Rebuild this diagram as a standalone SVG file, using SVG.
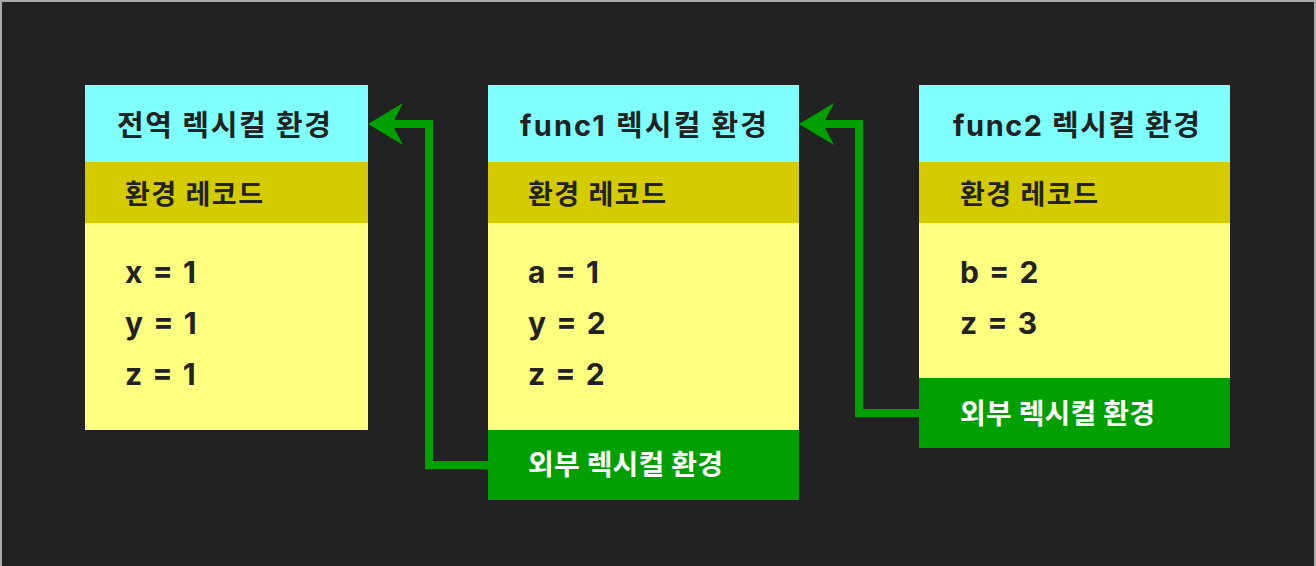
<svg xmlns="http://www.w3.org/2000/svg" width="1316" height="566" viewBox="0 0 1316 566">
<style>
.title{font-family:Inter,"Noto Sans CJK KR",sans-serif;font-weight:700;font-size:29px;fill:#222;text-anchor:middle}
.rec{font-family:Inter,"Noto Sans CJK KR",sans-serif;font-weight:700;font-size:27px;fill:#222}
.var{font-family:Inter,"Noto Sans CJK KR",sans-serif;font-weight:700;font-size:30px;fill:#222;word-spacing:3px}
.outer{font-family:Inter,"Noto Sans CJK KR",sans-serif;font-weight:700;font-size:28px;fill:#fff}
.hd{fill:#80FFFF}
.rc{fill:#D4CC00}
.bd{fill:#FFFF80}
.gr{fill:#00A000}
.conn{fill:none;stroke:#00A000;stroke-width:8;stroke-linejoin:miter}
.head{fill:#00A000}
</style>
<rect x="0" y="0" width="1316" height="566" fill="#222"/>
<path d="M1,566 V1 H1315 V566" fill="none" stroke="#aaa" stroke-width="2"/>
<g id="connectors">
<path class="conn" d="M488,465 H429 V124 H392"/>
<path class="head" d="M368,124 L403,103 L392,124 L403,145 Z"/>
<path class="conn" d="M919,413 H859 V124 H823"/>
<path class="head" d="M799,124 L834,103 L823,124 L834,145 Z"/>
</g>
<g id="global">
<rect class="hd" x="85" y="85" width="283" height="77"/>
<rect class="rc" x="85" y="162" width="283" height="61"/>
<rect class="bd" x="85" y="223" width="283" height="207"/>
<text class="title" x="224" y="136" textLength="214" lengthAdjust="spacing">전역 렉시컬 환경</text>
<text class="rec" x="125" y="204" textLength="138" lengthAdjust="spacing">환경 레코드</text>
<text class="var" x="125" y="283">x = 1</text>
<text class="var" x="125" y="334">y = 1</text>
<text class="var" x="125" y="385">z = 1</text>
</g>
<g id="func1">
<rect class="hd" x="488" y="85" width="311" height="77"/>
<rect class="rc" x="488" y="162" width="311" height="61"/>
<rect class="bd" x="488" y="223" width="311" height="207"/>
<rect class="gr" x="488" y="430" width="311" height="70"/>
<text class="title" x="643.5" y="136" textLength="247" lengthAdjust="spacing">func1 렉시컬 환경</text>
<text class="rec" x="528" y="204" textLength="138" lengthAdjust="spacing">환경 레코드</text>
<text class="var" x="528" y="283">a = 1</text>
<text class="var" x="528" y="334">y = 2</text>
<text class="var" x="528" y="385">z = 2</text>
<text class="outer" x="528" y="475" textLength="195" lengthAdjust="spacing">외부 렉시컬 환경</text>
</g>
<g id="func2">
<rect class="hd" x="919" y="85" width="311" height="77"/>
<rect class="rc" x="919" y="162" width="311" height="61"/>
<rect class="bd" x="919" y="223" width="311" height="155"/>
<rect class="gr" x="919" y="378" width="311" height="70"/>
<text class="title" x="1076.5" y="136" textLength="247" lengthAdjust="spacing">func2 렉시컬 환경</text>
<text class="rec" x="960" y="204" textLength="138" lengthAdjust="spacing">환경 레코드</text>
<text class="var" x="960" y="283">b = 2</text>
<text class="var" x="960" y="334">z = 3</text>
<text class="outer" x="960" y="424" textLength="195" lengthAdjust="spacing">외부 렉시컬 환경</text>
</g>
</svg>
